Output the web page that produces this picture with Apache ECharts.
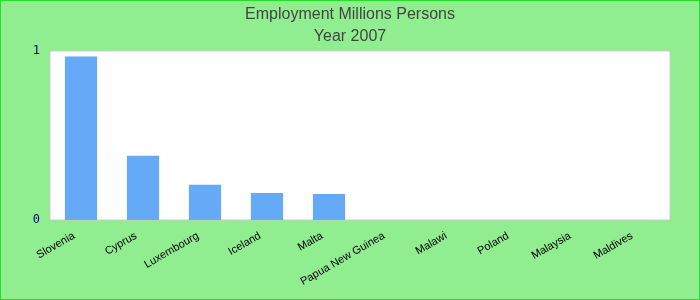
<!DOCTYPE html>
<html>
<head>
<meta charset="utf-8">
<script src="https://cdn.jsdelivr.net/npm/echarts@6/dist/echarts.min.js"></script>
<style>html,body{margin:0;padding:0;}#c{width:700px;height:300px;}</style>
</head>
<body>
<div id="c"></div>
<script>
var categories = ["Slovenia","Cyprus","Luxembourg","Iceland","Malta","Papua New Guinea","Malawi","Poland","Malaysia","Maldives"];
var values = [0.967, 0.38, 0.208, 0.16, 0.154, 0, 0, 0, 0, 0];
var yTicks = [0, 1];

var chart = echarts.init(document.getElementById('c'), null, {renderer:'canvas'});
chart.setOption({
  backgroundColor: '#90EE90',
  animation: false,
  title: {
    text: 'Employment Millions Persons',
    subtext: 'Year 2007',
    left: 'center',
    top: 2,
    itemGap: 6,
    textStyle: {color:'#444', fontSize:16, fontWeight:'normal', fontFamily:'Liberation Sans'},
    subtextStyle: {color:'#444', fontSize:16, fontFamily:'Liberation Sans'}
  },
  graphic: [{
    type:'rect', silent:true, z:100,
    shape:{x:0,y:0,width:700,height:300},
    style:{fill:'none', stroke:'#22e022', lineWidth:2}
  }],
  grid: {left:50, right:30, top:51, bottom:80, show:true, backgroundColor:'#fff', borderColor:'#ccc', borderWidth:1},
  xAxis: {
    type:'category', data:categories,
    axisLine:{show:false}, axisTick:{show:false},
    axisLabel:{interval:0, rotate:30, fontSize:11, color:'#000', fontFamily:'Liberation Sans', margin:11, padding:[0,8,0,0]}
  },
  yAxis: {
    type:'value', min:yTicks[0], max:yTicks[yTicks.length-1], interval:1,
    splitLine:{show:false}, axisLine:{show:false}, axisTick:{show:false},
    axisLabel:{color:'#00008B', fontSize:12, fontFamily:'DejaVu Sans Mono', margin:10, padding:[4,0,0,0]}
  },
  series: [{
    type:'bar', data:values, barWidth:'52%',
    itemStyle:{color:'#64AAF6'}
  }]
});
</script>
</body>
</html>
